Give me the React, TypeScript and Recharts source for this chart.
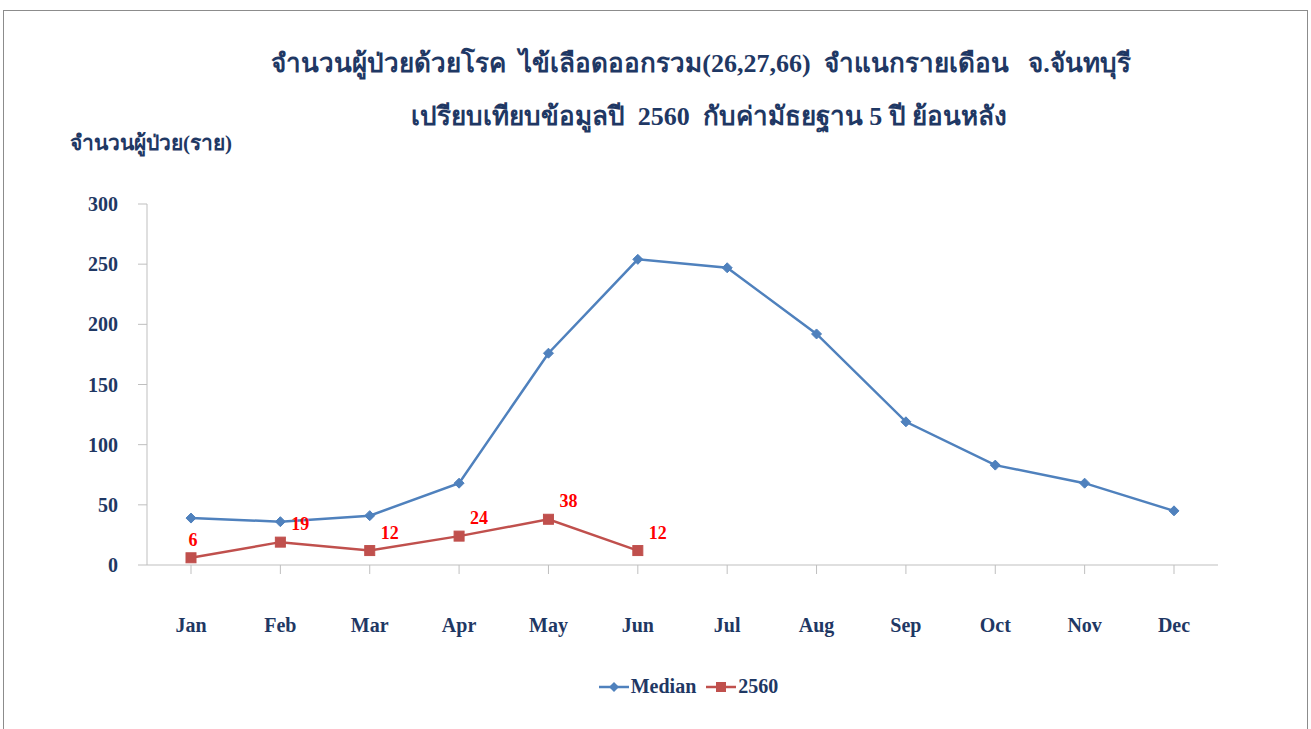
import React from "react";
import { LineChart, Line, XAxis, YAxis } from "recharts";

const months = ["Jan", "Feb", "Mar", "Apr", "May", "Jun", "Jul", "Aug", "Sep", "Oct", "Nov", "Dec"];
const medianValues = [39, 36, 41, 68, 176, 254, 247, 192, 119, 83, 68, 45];
const y2560Values: (number | null)[] = [6, 19, 12, 24, 38, 12, null, null, null, null, null, null];
const yTicks = [0, 50, 100, 150, 200, 250, 300];

const data = months.map((m, i) => ({
  month: m,
  median: medianValues[i],
  y2560: y2560Values[i],
}));

const NAVY = "#1F3864";
const BLUE = "#4F81BD";
const RED = "#C0504D";
const FONT = "'Liberation Serif', 'Times New Roman', serif";

const Diamond = (props: any) => {
  const { cx, cy } = props;
  if (cx == null || cy == null) return null;
  const r = 5;
  return (
    <path
      d={`M${cx},${cy - r} L${cx + r},${cy} L${cx},${cy + r} L${cx - r},${cy} Z`}
      fill={BLUE}
      stroke={BLUE}
    />
  );
};

const Square = (props: any) => {
  const { cx, cy } = props;
  if (cx == null || cy == null) return null;
  const s = 10;
  return <rect x={cx - s / 2} y={cy - s / 2} width={s} height={s} fill={RED} stroke={RED} />;
};

const RedLabel = (props: any) => {
  const { x, y, value, index } = props;
  if (value == null) return null;
  const dx = index === 0 ? 2 : 20;
  return (
    <text
      x={x + dx}
      y={y - 12}
      textAnchor="middle"
      fill="#FF0000"
      fontFamily={FONT}
      fontWeight="bold"
      fontSize={18}
    >
      {value}
    </text>
  );
};

const App = () => {
  return (
    <div
      style={{
        position: "absolute",
        left: 0,
        top: 0,
        width: 1311,
        height: 729,
        background: "#fff",
        fontFamily: FONT,
      }}
    >
      <div
        style={{
          position: "absolute",
          left: 3,
          top: 10,
          width: 1305,
          height: 730,
          border: "1px solid #8c8c8c",
          boxSizing: "border-box",
        }}
      />
      <LineChart
        width={1311}
        height={729}
        data={data}
        margin={{ top: 204, right: 93, bottom: 94, left: 0 }}
        style={{ position: "absolute", left: 0, top: 0 }}
      >
        <text
          x={701}
          y={72}
          textAnchor="middle"
          fill={NAVY}
          fontFamily={FONT}
          fontWeight="bold"
          fontSize={26}
          style={{ whiteSpace: "pre" }}
        >
          {"จำนวนผู้ป่วยด้วยโรค  ไข้เลือดออกรวม(26,27,66)  จำแนกรายเดือน   จ.จันทบุรี"}
        </text>
        <text
          x={709}
          y={125}
          textAnchor="middle"
          fill={NAVY}
          fontFamily={FONT}
          fontWeight="bold"
          fontSize={26}
          style={{ whiteSpace: "pre" }}
        >
          {"เปรียบเทียบข้อมูลปี  2560  กับค่ามัธยฐาน 5 ปี ย้อนหลัง"}
        </text>
        <text x={70} y={150} fill={NAVY} fontFamily={FONT} fontWeight="bold" fontSize={21}>
          จำนวนผู้ป่วย(ราย)
        </text>
        <XAxis
          dataKey="month"
          height={70}
          padding={{ left: 44, right: 44 }}
          axisLine={{ stroke: "#BFBFBF" }}
          tickLine={{ stroke: "#BFBFBF" }}
          tickSize={9}
          tickMargin={44}
          tick={{ fill: NAVY, fontFamily: FONT, fontWeight: "bold", fontSize: 20 }}
          interval={0}
        />
        <YAxis
          width={147}
          domain={[0, 300]}
          ticks={yTicks}
          axisLine={{ stroke: "#BFBFBF" }}
          tickLine={{ stroke: "#BFBFBF" }}
          tickSize={9}
          tickMargin={20}
          tick={{ fill: NAVY, fontFamily: FONT, fontWeight: "bold", fontSize: 20 }}
          interval={0}
        />
        <Line
          type="linear"
          dataKey="median"
          name="Median"
          stroke={BLUE}
          strokeWidth={2.5}
          dot={<Diamond />}
          activeDot={false}
          isAnimationActive={false}
        />
        <Line
          type="linear"
          dataKey="y2560"
          name="2560"
          stroke={RED}
          strokeWidth={2.5}
          dot={<Square />}
          activeDot={false}
          label={<RedLabel />}
          connectNulls={false}
          isAnimationActive={false}
        />
      </LineChart>
      <div
        style={{
          position: "absolute",
          top: 675,
          left: 0,
          width: 1311,
          display: "flex",
          justifyContent: "center",
          alignItems: "center",
          paddingLeft: 66,
          boxSizing: "border-box",
          color: NAVY,
          fontWeight: "bold",
          fontSize: 20,
        }}
      >
        <svg width={30} height={12} style={{ marginRight: 2 }}>
          <line x1={0} y1={6} x2={30} y2={6} stroke={BLUE} strokeWidth={2.5} />
          <path d="M15,1 L20,6 L15,11 L10,6 Z" fill={BLUE} />
        </svg>
        <span>Median</span>
        <svg width={30} height={12} style={{ marginLeft: 10, marginRight: 2 }}>
          <line x1={0} y1={6} x2={30} y2={6} stroke={RED} strokeWidth={2.5} />
          <rect x={10} y={1} width={10} height={10} fill={RED} />
        </svg>
        <span>2560</span>
      </div>
    </div>
  );
};

export default App;
